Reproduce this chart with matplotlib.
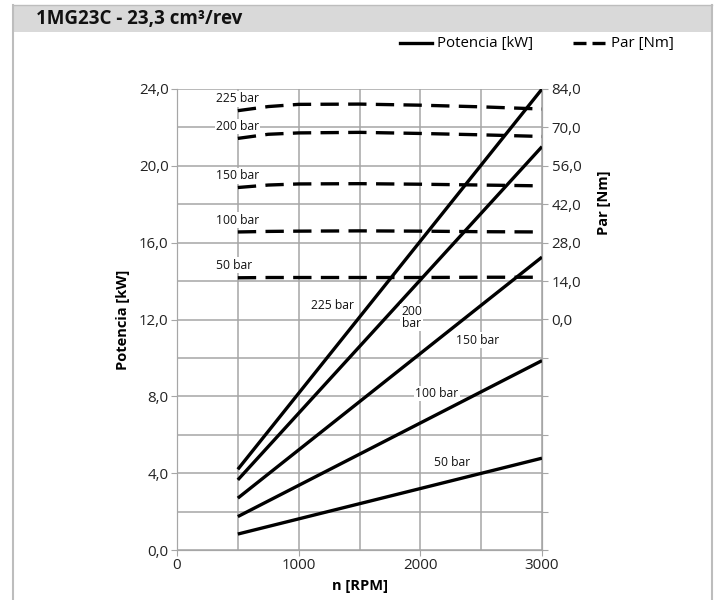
import matplotlib
matplotlib.use("Agg")
import matplotlib.pyplot as plt
from matplotlib.patches import Rectangle
from matplotlib.lines import Line2D
from matplotlib.ticker import MultipleLocator, FixedLocator, FuncFormatter

plt.rcParams['font.family'] = ['Open Sans', 'DejaVu Sans']

# ---- data ----
pressures = ["225 bar", "200 bar", "150 bar", "100 bar", "50 bar"]

rpm_power = [500, 3000]
power_225 = [4.2, 24.0]
power_200 = [3.65, 21.0]
power_150 = [2.7, 15.25]
power_100 = [1.74, 9.86]
power_50 = [0.83, 4.78]

rpm_torque = [500, 750, 1000, 1500, 2000, 2500, 3000]
torque_225 = [76.1, 77.6, 78.4, 78.5, 78.1, 77.5, 76.7]
torque_200 = [66.0, 67.5, 68.0, 68.2, 67.8, 67.3, 66.7]
torque_150 = [48.1, 49.0, 49.4, 49.5, 49.3, 49.0, 48.7]
torque_100 = [31.9, 32.1, 32.2, 32.3, 32.2, 32.0, 31.9]
torque_50 = [15.2, 15.3, 15.3, 15.3, 15.3, 15.4, 15.4]

power_series = [power_225, power_200, power_150, power_100, power_50]
torque_series = [torque_225, torque_200, torque_150, torque_100, torque_50]

x_ticks = [0, 1000, 2000, 3000]
left_ticks = [0, 4, 8, 12, 16, 20, 24]
right_ticks = [0, 14, 28, 42, 56, 70, 84]

title = "1MG23C - 23,3 cm³/rev"

# ---- figure ----
fig = plt.figure(figsize=(7.18, 6.0), dpi=100)
W, H = 718, 600

def fx(px):
    return px / W

def fy(py):
    return 1 - py / H

border = '#bdbdbd'
fig.patches.append(Rectangle((fx(13), fy(32)), fx(712) - fx(13), fy(5) - fy(32),
                             transform=fig.transFigure, facecolor='#d9d9d9',
                             edgecolor='none', zorder=0))
fig.lines.append(Line2D([fx(13), fx(13)], [fy(5), 0], transform=fig.transFigure,
                        color=border, lw=1.5))
fig.lines.append(Line2D([fx(712), fx(712)], [fy(5), 0], transform=fig.transFigure,
                        color=border, lw=1.5))
fig.lines.append(Line2D([fx(13), fx(712)], [fy(5), fy(5)], transform=fig.transFigure,
                        color=border, lw=1.0))
fig.text(fx(36), fy(19), title, fontsize=13.5, fontweight='bold', va='center', ha='left',
         color='#111111')

ax = fig.add_axes([fx(177), fy(550), fx(542) - fx(177), fy(89) - fy(550)])
ax2 = ax.twinx()

grid_c = '#a6a6a6'
ax.set_xlim(0, 3000)
ax.set_ylim(0, 24)
ax2.set_ylim(-84, 84)

ax.xaxis.set_major_locator(FixedLocator(x_ticks))
ax.xaxis.set_minor_locator(MultipleLocator(500))
ax.yaxis.set_major_locator(FixedLocator(left_ticks))
ax.yaxis.set_minor_locator(MultipleLocator(2))
ax.grid(True, which='both', color=grid_c, lw=1.1)
ax.set_axisbelow(True)

ax.yaxis.set_major_formatter(FuncFormatter(lambda v, p: f"{v:.1f}".replace('.', ',')))
ax.tick_params(axis='both', which='major', length=4, color=grid_c, labelsize=10.8,
               labelcolor='#222222', pad=2)
ax.tick_params(axis='both', which='minor', length=0)

ax2.yaxis.set_major_locator(FixedLocator(list(range(-84, 85, 14))))
ax2.yaxis.set_major_formatter(FuncFormatter(
    lambda v, p: f"{v:.1f}".replace('.', ',') if v >= 0 else ""))
ax2.tick_params(axis='y', length=4, color=grid_c, labelsize=10.8, labelcolor='#222222', pad=3)

for a in (ax, ax2):
    for s in a.spines.values():
        s.set_color(grid_c)
    a.spines['top'].set_visible(False)

dash = (0, (5.5, 2.8))

# power lines (left axis)
for vals in power_series:
    ax.plot(rpm_power, vals, color='black', lw=2.4, solid_capstyle='butt', zorder=3)

# torque lines (right axis)
for vals in torque_series:
    ax2.plot(rpm_torque, vals, color='black', lw=2.4, ls=dash,
             dash_capstyle='butt', zorder=3)

bbox = dict(facecolor='white', edgecolor='none', pad=1.0)
# torque labels
torque_label_pos = [(320, 23.48), (320, 22.05), (320, 19.48), (320, 17.18), (320, 14.83)]
for lab, (xx, yy) in zip(pressures, torque_label_pos):
    ax.text(xx, yy, lab, fontsize=8.7, ha='left', va='center', bbox=bbox, zorder=4,
            color='#111111')

# power labels
power_label_pos = [(1282, 12.75), (1929, 12.1), (2474, 10.92), (2137, 8.14), (2260, 4.54)]
power_label_text = ["225 bar", "200\nbar", "150 bar", "100 bar", "50 bar"]
for lab, (xx, yy) in zip(power_label_text, power_label_pos):
    ax.text(xx, yy, lab, fontsize=8.7, ha='center', va='center', bbox=bbox, zorder=4,
            color='#111111', linespacing=0.9)

ax.set_xlabel("n [RPM]", fontsize=10.5, fontweight='bold', labelpad=4)
ax.set_ylabel("Potencia [kW]", fontsize=10.5, fontweight='bold')
ax.yaxis.set_label_coords(-0.128, 0.5)
ax2.set_ylabel("Par [Nm]", fontsize=10.5, fontweight='bold')
ax2.yaxis.set_label_coords(1.15, 0.753)

# legend
fig.lines.append(Line2D([fx(400), fx(432)], [fy(43), fy(43)], transform=fig.transFigure,
                        color='black', lw=2.4))
fig.text(fx(437), fy(43), "Potencia [kW]", fontsize=10.8, va='center', ha='left')
fig.lines.append(Line2D([fx(573), fx(605)], [fy(43), fy(43)], transform=fig.transFigure,
                        color='black', lw=2.4, ls=(0, (3.9, 1.8)), dash_capstyle='butt'))
fig.text(fx(611), fy(43), "Par [Nm]", fontsize=10.8, va='center', ha='left')

fig.savefig("out.png", dpi=100)
